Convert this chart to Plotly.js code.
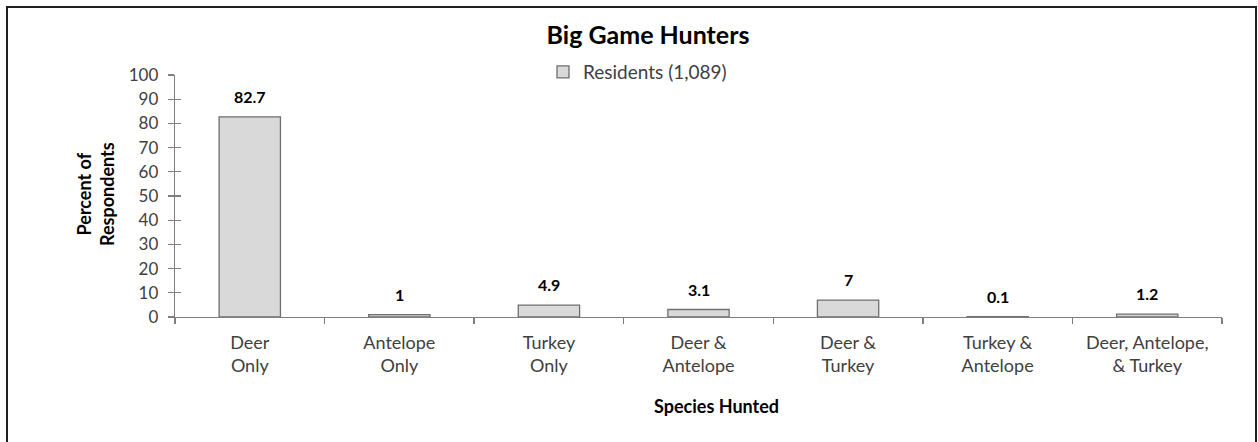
<!DOCTYPE html>
<html>
<head>
<meta charset="utf-8">
<script src="https://cdn.plot.ly/plotly-3.0.1.min.js"></script>
<style>
  html, body { margin: 0; padding: 0; width: 1258px; height: 442px; overflow: hidden; background: #ffffff; }
  #chart { position: absolute; left: 0; top: 0; width: 1258px; height: 442px; }
  #frame { position: absolute; left: 6px; top: 6px; width: 1247px; height: 460px; border: 2px solid #1f1f1f; pointer-events: none; }
</style>
</head>
<body>
<div id="chart"></div>
<div id="frame"></div>
<script>
const categories = ['Deer<br>Only', 'Antelope<br>Only', 'Turkey<br>Only', 'Deer &<br>Antelope', 'Deer &<br>Turkey', 'Turkey &<br>Antelope', 'Deer, Antelope,<br>& Turkey'];
const residents = [82.7, 1, 4.9, 3.1, 7, 0.1, 1.2];
const valueLabels = ['82.7', '1', '4.9', '3.1', '7', '0.1', '1.2'];
const seriesName = 'Residents (1,089)';
const yTickValues = [0, 10, 20, 30, 40, 50, 60, 70, 80, 90, 100];

const FONT = 'Lato, "Open Sans", sans-serif';

const traces = [
  {
    type: 'bar',
    x: categories,
    y: residents,
    name: seriesName,
    marker: { color: '#d9d9d9', line: { color: '#6f6f6f', width: 1.3 } },
    hoverinfo: 'skip'
  },
  {
    type: 'scatter',
    x: [],
    y: [],
    yaxis: 'y2',
    showlegend: false,
    hoverinfo: 'skip'
  }
];

const annotations = categories.map((c, i) => ({
  x: c, y: residents[i], xref: 'x', yref: 'y',
  text: '<b>' + valueLabels[i] + '</b>',
  showarrow: false, yanchor: 'bottom', yshift: 9,
  font: { family: FONT, size: 16, color: '#000000' }
}));

annotations.push({
  xref: 'paper', yref: 'paper', x: (716 - 175) / 1047, y: (317 - 406) / 242,
  xanchor: 'center', yanchor: 'middle', showarrow: false,
  text: '<b>Species Hunted</b>',
  font: { family: FONT, size: 18, color: '#000000' }
});
annotations.push({
  xref: 'paper', yref: 'paper', x: (95 - 175) / 1047, y: (317 - 194) / 242,
  xanchor: 'center', yanchor: 'middle', showarrow: false, textangle: -90,
  text: '<b>Percent of<br>Respondents</b>',
  font: { family: FONT, size: 18, color: '#000000' }
});

const layout = {
  width: 1258, height: 442,
  margin: { l: 175, r: 36, t: 75, b: 125 },
  paper_bgcolor: 'rgba(0,0,0,0)',
  plot_bgcolor: 'rgba(0,0,0,0)',
  font: { family: FONT, size: 17, color: '#404040' },
  title: {
    text: '<b>Big Game Hunters</b>',
    font: { family: FONT, size: 25, color: '#000000' },
    xref: 'paper', x: (648 - 175) / 1047, xanchor: 'center',
    yref: 'container', y: 1 - 35 / 442, yanchor: 'middle'
  },
  showlegend: true,
  legend: {
    orientation: 'h', xref: 'paper', yref: 'paper',
    x: (543 - 175) / 1047, xanchor: 'left',
    y: (317 - 72) / 242, yanchor: 'middle',
    font: { family: FONT, size: 19, color: '#404040' },
    bgcolor: 'rgba(0,0,0,0)', itemwidth: 30
  },
  bargap: 0.59,
  xaxis: {
    type: 'category',
    showline: true, linecolor: '#7f7f7f', linewidth: 1.3,
    ticks: 'outside', tickson: 'boundaries', ticklen: 6, tickcolor: '#7f7f7f', tickwidth: 1.3,
    showgrid: false, zeroline: false,
    ticklabelstandoff: 9,
    tickfont: { family: FONT, size: 18, color: '#404040' },
    fixedrange: true
  },
  yaxis: {
    range: [0, 100], tickvals: yTickValues,
    showline: true, linecolor: '#7f7f7f', linewidth: 1.3,
    ticks: 'outside', ticklen: 6, tickcolor: '#7f7f7f', tickwidth: 1.3,
    showgrid: false, zeroline: false,
    ticklabelstandoff: 6,
    tickfont: { family: FONT, size: 17, color: '#404040' },
    fixedrange: true
  },
  yaxis2: {
    overlaying: 'y', side: 'left', anchor: 'x',
    range: [0, 100], tickvals: yTickValues,
    showline: false, showgrid: false, zeroline: false,
    ticks: 'inside', ticklen: 6, tickcolor: '#7f7f7f', tickwidth: 1.3,
    showticklabels: false, fixedrange: true
  },
  annotations: annotations
};

Plotly.newPlot('chart', traces, layout, { staticPlot: true, displayModeBar: false });
</script>
</body>
</html>
